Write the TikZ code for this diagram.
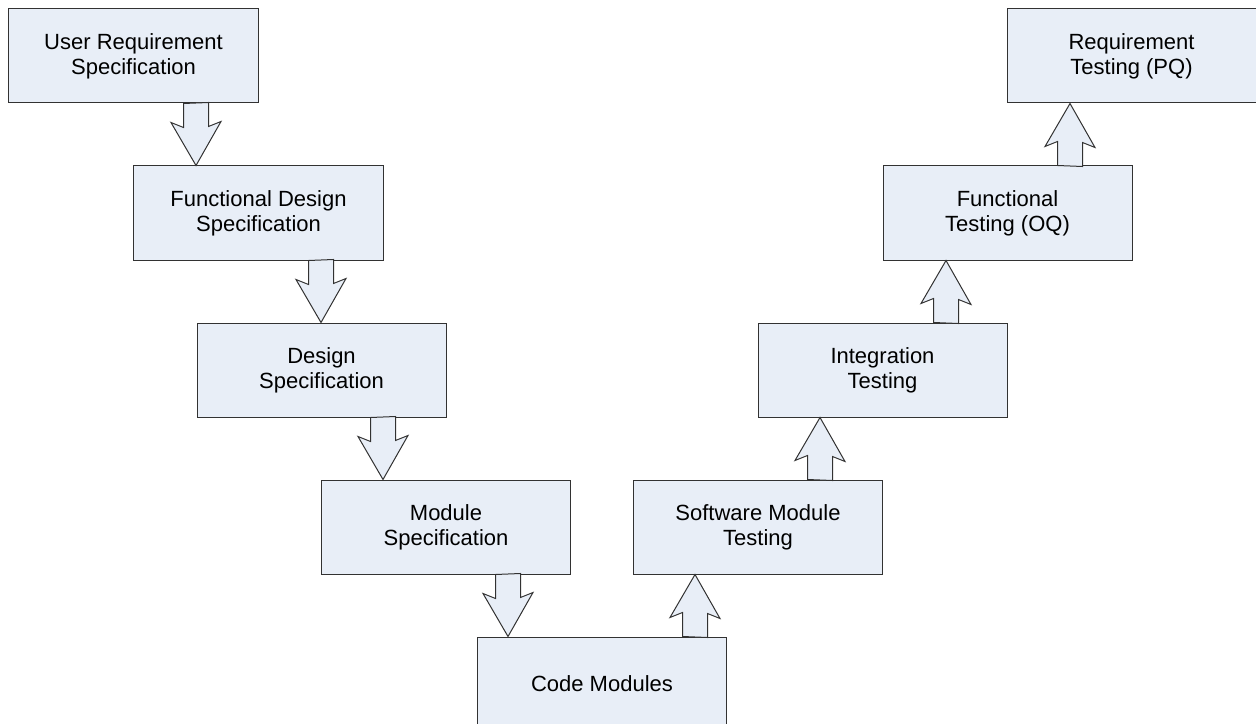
\documentclass[tikz,border=0pt]{standalone}
\usepackage{fontspec}
\setmainfont{Liberation Sans}
\usetikzlibrary{calc}
\definecolor{boxfill}{RGB}{232,238,247}
\definecolor{edge}{RGB}{50,50,50}
\tikzset{
  stagebox/.style={draw=edge, fill=boxfill, line width=1bp, minimum width=249bp, minimum height=94bp,
    inner sep=0pt, align=center, font=\fontsize{22bp}{25bp}\selectfont},
  blk/.style={draw=edge, fill=boxfill, line width=1bp, line join=miter}
}
\begin{document}
\begin{tikzpicture}[x=1bp,y=-1bp]
\clip (0,0) rectangle (1256,724);
\fill[white] (0,0) rectangle (1256,724);
% boxes
\node[stagebox] (urs) at (133.5,56) {User Requirement\\Specification};
\node[stagebox] (fds) at (258.5,213) {Functional Design\\Specification};
\node[stagebox] (ds)  at (321.5,370) {Design\\Specification};
\node[stagebox] (ms)  at (446,527) {Module\\Specification};
\node[stagebox] (cm)  at (602,684) {Code Modules};
\node[stagebox] (smt) at (758,527) {Software Module\\Testing};
\node[stagebox] (it)  at (882.5,370) {Integration\\Testing};
\node[stagebox] (ft)  at (1007.5,213) {Functional\\Testing (OQ)};
\node[stagebox] (rt)  at (1131.5,56) {Requirement\\Testing (PQ)};
% arrow axes
\coordinate (a1) at (196,0);
\coordinate (a2) at (321,0);
\coordinate (a3) at (383,0);
\coordinate (a4) at (508,0);
\coordinate (a5) at (695,0);
\coordinate (a6) at (820,0);
\coordinate (a7) at (946,0);
\coordinate (a8) at (1070,0);
% down block arrows
\foreach \s/\t/\x in {urs/fds/a1, fds/ds/a2, ds/ms/a3, ms/cm/a4}{
  \draw[blk] (\s.south -| \x) ++(-12.5,0) -- ++(0,24) -- ++(-12.5,-5) -- (\t.north -| \x)
     -- ++(25,-44) -- ++(-12.5,5) -- ++(0,-24) -- cycle;
}
% up block arrows
\foreach \s/\t/\x in {cm/smt/a5, smt/it/a6, it/ft/a7, ft/rt/a8}{
  \draw[blk] (\s.north -| \x) ++(-12.5,0) -- ++(0,-24) -- ++(-12.5,5) -- (\t.south -| \x)
     -- ++(25,44) -- ++(-12.5,-5) -- ++(0,24) -- cycle;
}
\end{tikzpicture}
\end{document}
